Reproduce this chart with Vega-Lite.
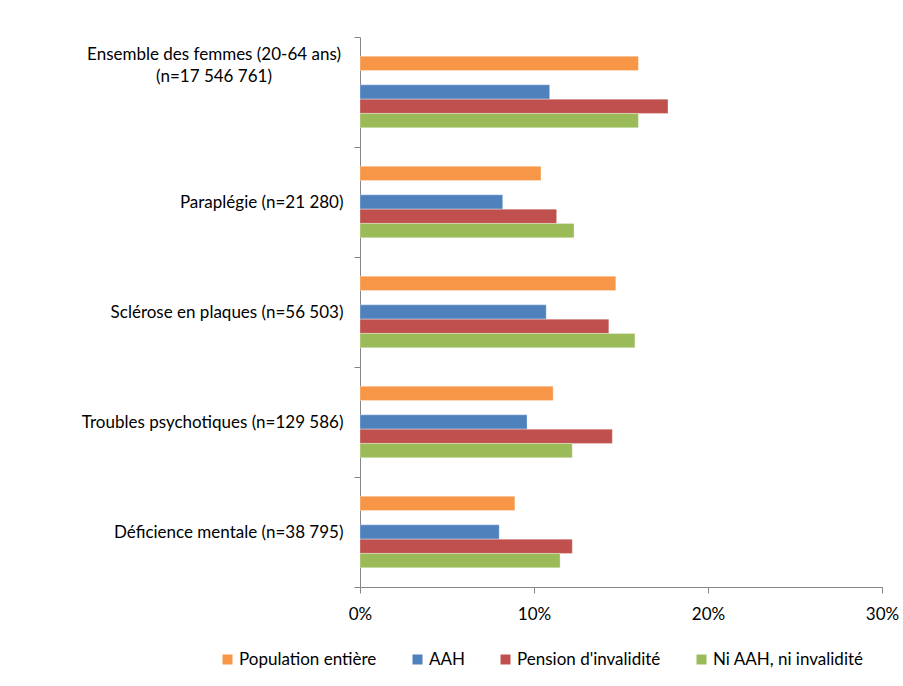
{
  "$schema": "https://vega.github.io/schema/vega-lite/v6.json",
  "width": 522,
  "height": 550,
  "autosize": {"type": "none"},
  "padding": {"left": 360, "top": 37, "right": 21, "bottom": 99},
  "background": "white",
  "data": {
    "values": [
      {"cat": "Ensemble des femmes (20-64 ans)|(n=17 546 761)", "serie": "Population entière", "v": 0.160},
      {"cat": "Ensemble des femmes (20-64 ans)|(n=17 546 761)", "serie": "AAH", "v": 0.109},
      {"cat": "Ensemble des femmes (20-64 ans)|(n=17 546 761)", "serie": "Pension d'invalidité", "v": 0.177},
      {"cat": "Ensemble des femmes (20-64 ans)|(n=17 546 761)", "serie": "Ni AAH, ni invalidité", "v": 0.160},
      {"cat": "Paraplégie (n=21 280)", "serie": "Population entière", "v": 0.104},
      {"cat": "Paraplégie (n=21 280)", "serie": "AAH", "v": 0.082},
      {"cat": "Paraplégie (n=21 280)", "serie": "Pension d'invalidité", "v": 0.113},
      {"cat": "Paraplégie (n=21 280)", "serie": "Ni AAH, ni invalidité", "v": 0.123},
      {"cat": "Sclérose en plaques (n=56 503)", "serie": "Population entière", "v": 0.147},
      {"cat": "Sclérose en plaques (n=56 503)", "serie": "AAH", "v": 0.107},
      {"cat": "Sclérose en plaques (n=56 503)", "serie": "Pension d'invalidité", "v": 0.143},
      {"cat": "Sclérose en plaques (n=56 503)", "serie": "Ni AAH, ni invalidité", "v": 0.158},
      {"cat": "Troubles psychotiques (n=129 586)", "serie": "Population entière", "v": 0.111},
      {"cat": "Troubles psychotiques (n=129 586)", "serie": "AAH", "v": 0.096},
      {"cat": "Troubles psychotiques (n=129 586)", "serie": "Pension d'invalidité", "v": 0.145},
      {"cat": "Troubles psychotiques (n=129 586)", "serie": "Ni AAH, ni invalidité", "v": 0.122},
      {"cat": "Déficience mentale (n=38 795)", "serie": "Population entière", "v": 0.089},
      {"cat": "Déficience mentale (n=38 795)", "serie": "AAH", "v": 0.080},
      {"cat": "Déficience mentale (n=38 795)", "serie": "Pension d'invalidité", "v": 0.122},
      {"cat": "Déficience mentale (n=38 795)", "serie": "Ni AAH, ni invalidité", "v": 0.115}
    ]
  },
  "encoding": {
    "y": {
      "field": "cat",
      "type": "nominal",
      "sort": null,
      "scale": {"paddingInner": 0, "paddingOuter": 0},
      "axis": {
        "title": null,
        "tickBand": "extent",
        "domainColor": "#868686",
        "tickColor": "#868686",
        "tickSize": 6,
        "labelPadding": 11,
        "labelFont": "Lato",
        "labelFontSize": 17,
        "labelColor": "#000000",
        "labelLimit": 400,
        "labelExpr": "indexof(datum.label, '|') >= 0 ? '' : datum.label"
      }
    }
  },
  "layer": [
    {
      "mark": {"type": "bar", "stroke": "white", "strokeOpacity": 0.5, "strokeWidth": 0.6},
      "encoding": {
        "yOffset": {
          "field": "serie",
          "type": "nominal",
          "scale": {
            "domain": ["_a", "Population entière", "_", "AAH", "Pension d'invalidité", "Ni AAH, ni invalidité", "_b"],
            "paddingInner": 0,
            "paddingOuter": 0.35
          }
        },
        "x": {
          "field": "v",
          "type": "quantitative",
          "scale": {"domain": [0, 0.3], "nice": false},
          "axis": {
            "title": null,
            "values": [0, 0.1, 0.2, 0.3],
            "format": ".0%",
            "grid": false,
            "domainColor": "#868686",
            "tickColor": "#868686",
            "tickSize": 6,
            "labelPadding": 13,
            "labelFont": "Lato",
            "labelFontSize": 17,
            "labelColor": "#000000",
            "labelFlush": false
          }
        },
        "color": {
          "field": "serie",
          "type": "nominal",
          "scale": {
            "domain": ["Population entière", "AAH", "Pension d'invalidité", "Ni AAH, ni invalidité"],
            "range": ["#F79646", "#4F81BD", "#C0504D", "#9BBB59"]
          },
          "legend": {
            "title": null,
            "orient": "none",
            "direction": "horizontal",
            "gridAlign": "none",
            "legendX": -141,
            "legendY": 614,
            "symbolType": "square",
            "symbolSize": 100,
            "symbolStrokeWidth": 0,
            "labelFont": "Lato",
            "labelFontSize": 17,
            "labelColor": "#000000",
            "columnPadding": 32,
            "labelOffset": 3
          }
        }
      }
    },
    {
      "transform": [{"filter": "indexof(datum.cat, '|') >= 0 && datum.serie == 'AAH'"}],
      "mark": {
        "type": "text",
        "lineBreak": "|",
        "lineHeight": 22,
        "align": "center",
        "baseline": "middle",
        "font": "Lato",
        "fontSize": 17,
        "color": "#000000",
        "dx": -146,
        "dy": -37
      },
      "encoding": {
        "x": {"datum": 0},
        "text": {"field": "cat"}
      }
    }
  ],
  "config": {"view": {"stroke": null}}
}
